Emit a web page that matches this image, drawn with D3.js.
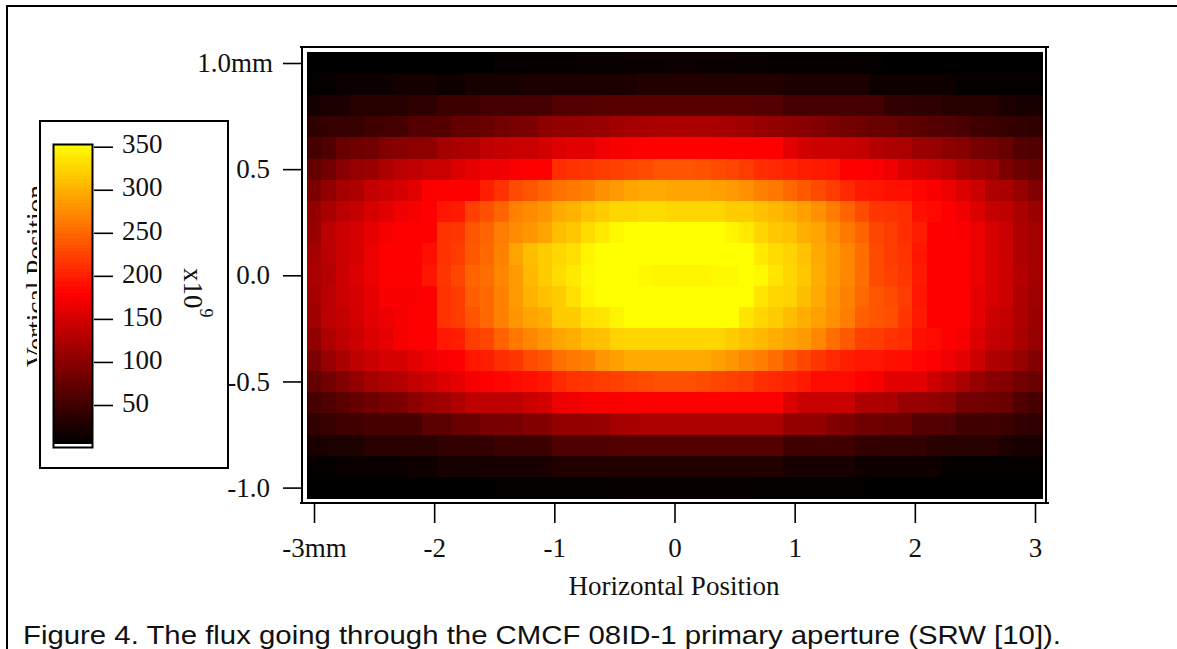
<!DOCTYPE html>
<html><head><meta charset="utf-8">
<script src="https://d3js.org/d3.v7.min.js"></script>
<style>html,body{margin:0;padding:0;background:#fff;overflow:hidden}svg{display:block}text{font-family:"Liberation Serif",serif;fill:#111}</style>
</head><body><svg id="c" width="1177" height="649"></svg>
<script>
const xTicks=[-3,-2,-1,0,1,2,3];
const xTickLabels=["-3mm","-2","-1","0","1","2","3"];
const yTicks=[1,0.5,0,-0.5,-1];
const yTickLabels=["1.0mm","0.5","0.0","-0.5","-1.0"];
const legendTicks=[350,300,250,200,150,100,50];
const xTitle="Horizontal Position", yTitle="Vertical Position";
const caption="Figure 4. The flux going through the CMCF 08ID-1 primary aperture (SRW [10]).";
const colorStops=[5,178,352];
const colorRange=["#000","#f00","#ff0"];
const row0=[5,5,5,5,5,5,5,5,5,5,5,5,5,9,9,9,10,10,10,11,11,11,12,12,12,13,13,12,12,12,11,11,10,10,10,9,9,9,8,7,6,6,5,5,5,5,5,5,5,5,5];
const row1=[8,8,13,13,13,13,19,19,19,15,15,20,20,20,20,24,24,24,24,24,24,24,24,29,29,29,29,29,29,29,29,29,29,24,24,24,24,24,24,15,15,15,15,15,15,8,8,8,8,8,8];
const row2=[19,24,24,31,31,31,31,36,36,46,46,46,51,51,51,51,51,63,63,63,64,64,65,65,65,65,65,65,65,65,64,63,63,51,51,51,51,51,51,51,38,38,36,36,31,31,31,31,24,22,22];
const row3=[36,42,42,42,49,51,53,63,63,63,73,73,76,83,87,90,100,104,104,107,107,114,117,119,121,122,122,121,119,117,114,107,104,100,97,93,90,83,80,76,76,70,66,63,59,55,49,46,42,39,36];
const row4=[53,59,76,80,83,93,97,100,100,117,121,124,134,138,141,141,148,155,158,158,168,172,175,178,178,178,178,178,178,178,178,178,178,158,148,144,144,141,138,127,124,121,110,107,100,97,87,83,76,63,59];
const row5=[73,83,97,107,110,124,131,134,141,141,155,161,168,168,175,178,178,209,212,215,219,222,226,229,236,236,236,233,229,226,219,209,205,202,198,195,192,178,178,175,168,155,148,141,134,121,114,107,90,80,73];
const row6=[90,104,117,124,138,144,151,158,175,178,178,178,198,212,229,236,246,256,260,266,277,283,290,294,294,290,290,290,287,283,277,266,260,249,239,229,219,205,195,192,188,188,181,175,165,155,144,124,121,107,93];
const row7=[104,121,131,138,151,158,168,172,178,192,195,222,232,246,266,273,280,294,300,310,317,324,324,328,328,324,324,324,324,317,317,310,304,297,287,277,263,246,229,215,212,209,188,185,178,168,155,138,134,121,110];
const row8=[110,131,144,151,161,172,178,178,178,212,215,236,246,263,273,280,290,307,314,328,338,348,352,352,352,352,352,352,352,345,338,324,314,310,297,290,277,260,246,226,219,209,198,178,178,175,165,151,141,124,117];
const row9=[117,131,144,151,165,178,178,178,188,212,219,239,249,266,290,307,317,324,331,345,352,352,352,352,352,352,352,352,352,352,352,338,328,321,310,294,283,270,253,229,219,212,192,178,178,178,165,151,144,124,117];
const row10=[121,127,144,155,165,178,178,178,192,215,226,246,253,270,283,304,317,328,338,348,352,352,352,348,345,345,345,345,348,348,352,348,334,324,314,297,283,270,253,229,222,215,195,178,178,178,165,151,144,127,117];
const row11=[117,131,144,151,161,175,175,175,178,212,219,243,249,266,283,300,310,317,331,345,352,352,352,352,352,352,352,352,352,352,352,334,324,321,307,294,280,266,249,236,229,219,192,178,178,178,161,151,144,124,114];
const row12=[114,131,138,148,158,165,172,178,178,212,219,236,249,266,280,290,297,317,317,331,334,345,352,352,352,352,352,352,352,352,334,324,317,307,297,287,277,263,243,236,232,215,195,178,178,178,161,144,138,124,110];
const row13=[104,124,134,144,155,161,172,178,178,195,198,219,226,246,260,270,280,290,297,307,310,321,324,324,324,324,324,324,324,317,310,304,297,290,283,270,253,239,222,219,212,209,188,185,178,172,155,138,134,121,107];
const row14=[90,107,121,134,141,151,151,158,168,175,178,192,198,209,215,229,236,253,260,266,280,287,294,294,294,294,294,294,287,280,270,263,253,239,226,215,205,198,192,192,188,188,181,178,168,158,144,124,121,107,93];
const row15=[73,83,93,104,117,124,127,138,144,155,161,172,178,181,185,188,192,205,212,215,219,222,226,229,232,232,232,229,226,222,219,209,205,202,195,185,185,185,178,172,158,158,158,144,134,121,107,97,93,83,76];
const row16=[53,59,66,73,80,87,90,100,110,114,124,134,134,134,134,144,148,165,168,172,175,175,178,178,178,178,178,178,178,178,178,178,178,155,141,141,141,141,124,124,121,107,107,104,100,83,83,80,76,59,53];
const row17=[39,42,49,49,53,53,53,53,66,66,76,76,87,87,87,93,93,104,104,104,107,117,119,121,121,121,121,121,121,121,121,121,121,104,104,104,93,90,80,80,76,76,63,63,59,49,49,49,46,39,36];
const row18=[22,25,25,25,32,32,32,32,32,39,39,39,39,46,46,46,46,59,59,59,59,63,63,63,63,63,63,63,63,63,63,63,63,49,49,49,49,49,39,39,39,39,39,32,32,32,32,32,25,22,22];
const row19=[8,8,12,12,12,12,12,15,15,20,20,20,20,22,22,22,22,29,29,29,29,29,29,29,29,29,29,29,29,29,29,29,29,22,22,22,22,22,15,15,15,15,15,15,8,8,8,8,8,8,8];
const row20=[5,5,5,5,5,5,5,5,5,5,5,5,5,7,7,7,7,8,8,8,8,9,9,9,9,9,9,9,9,9,9,8,8,8,8,7,7,7,7,5,5,5,5,5,5,5,5,5,5,5,5];
const rows=[row0,row1,row2,row3,row4,row5,row6,row7,row8,row9,row10,row11,row12,row13,row14,row15,row16,row17,row18,row19,row20];

const svg=d3.select("#c");
const x=d3.scaleLinear().domain([-3,3]).range([314,1035]);
const y=d3.scaleLinear().domain([1,-1]).range([63,487.6]);
const color=d3.scaleLinear().domain(colorStops).range(colorRange).clamp(true);
const dx=0.12, dy=0.1;
const nCols=row0.length, nRows=rows.length;
const gx=c=>(c-(nCols-1)/2)*dx, gy=r=>((nRows-1)/2-r)*dy;

svg.append("path").attr("d","M7,649V6H1177").attr("fill","none").attr("stroke","#000").attr("stroke-width",2);

const heat=svg.append("g").attr("shape-rendering","crispEdges");
rows.forEach((vals,r)=>{
  heat.selectAll(null).data(vals).join("rect")
    .attr("x",(d,c)=>x(gx(c)-dx/2)).attr("y",y(gy(r)+dy/2))
    .attr("width",x(dx)-x(0)+0.6).attr("height",y(0)-y(dy)+0.6)
    .attr("fill",d=>color(d));
});

const tick=g=>{g.select(".domain").remove();g.selectAll("line").attr("stroke","#000").attr("stroke-width",1.6);
  g.selectAll("text").style("font-size","27px").attr("fill","#111");};
svg.append("g").attr("transform","translate(302,0)")
  .call(d3.axisLeft(y).tickValues(yTicks).tickSize(19).tickPadding(13).tickFormat((d,i)=>yTickLabels[i])).call(tick)
  .call(g=>g.selectAll("text").filter((d,i)=>i===0).attr("dx",3));
svg.append("g").attr("transform","translate(0,503)")
  .call(d3.axisBottom(x).tickValues(xTicks).tickSize(20).tickPadding(15).tickFormat((d,i)=>xTickLabels[i])).call(tick);
svg.append("g").attr("stroke","#000").attr("stroke-width",2).attr("shape-rendering","crispEdges").call(g=>{
  g.append("line").attr("x1",300).attr("x2",1049).attr("y1",47).attr("y2",47);
  g.append("line").attr("x1",300).attr("x2",1049).attr("y1",503).attr("y2",503);
  g.append("line").attr("x1",302).attr("x2",302).attr("y1",46).attr("y2",504);
  g.append("line").attr("x1",1046).attr("x2",1046).attr("y1",46).attr("y2",504);
});
svg.append("text").attr("x",674).attr("y",595).attr("text-anchor","middle").style("font-size","27px")
  .attr("textLength",211).attr("lengthAdjust","spacingAndGlyphs").text(xTitle);

svg.append("defs").append("clipPath").attr("id","vt").append("rect").attr("x",0).attr("y",0).attr("width",37).attr("height",649);
svg.append("g").attr("clip-path","url(#vt)").append("text")
  .attr("transform","translate(45,276) rotate(-90)").attr("text-anchor","middle").style("font-size","27px")
  .attr("textLength",182).attr("lengthAdjust","spacingAndGlyphs").text(yTitle);

svg.append("rect").attr("x",40).attr("y",121).attr("width",188).attr("height",347).attr("fill","none").attr("stroke","#000").attr("stroke-width",2);
const ly=d3.scaleLinear().domain([350,50]).range([146.7,405]);
const legendVals=d3.range(5,353,4);
svg.append("g").attr("shape-rendering","crispEdges").selectAll("rect").data(legendVals).join("rect")
  .attr("x",54).attr("width",38).attr("y",d=>ly(d+4)).attr("height",ly(0)-ly(4)+0.6).attr("fill",d=>color(d));
svg.append("rect").attr("x",53.5).attr("y",144.5).attr("width",39).attr("height",303).attr("fill","none").attr("stroke","#000").attr("stroke-width",2);
svg.append("g").attr("transform","translate(94,0)")
  .call(d3.axisRight(ly).tickValues(legendTicks).tickSize(19).tickPadding(9)).call(tick)
  .call(g=>g.selectAll("text").attr("dy","0.23em"));
svg.append("text").attr("transform","translate(184,268) rotate(90)").style("font-size","27px")
  .text("x10").append("tspan").attr("dy",-16).style("font-size","18px").text("9");

svg.append("text").attr("x",23).attr("y",643.5).style("font-family","'Liberation Sans',sans-serif").style("font-size","26.5px")
  .attr("textLength",1038).attr("lengthAdjust","spacingAndGlyphs").text(caption);
</script></body></html>
